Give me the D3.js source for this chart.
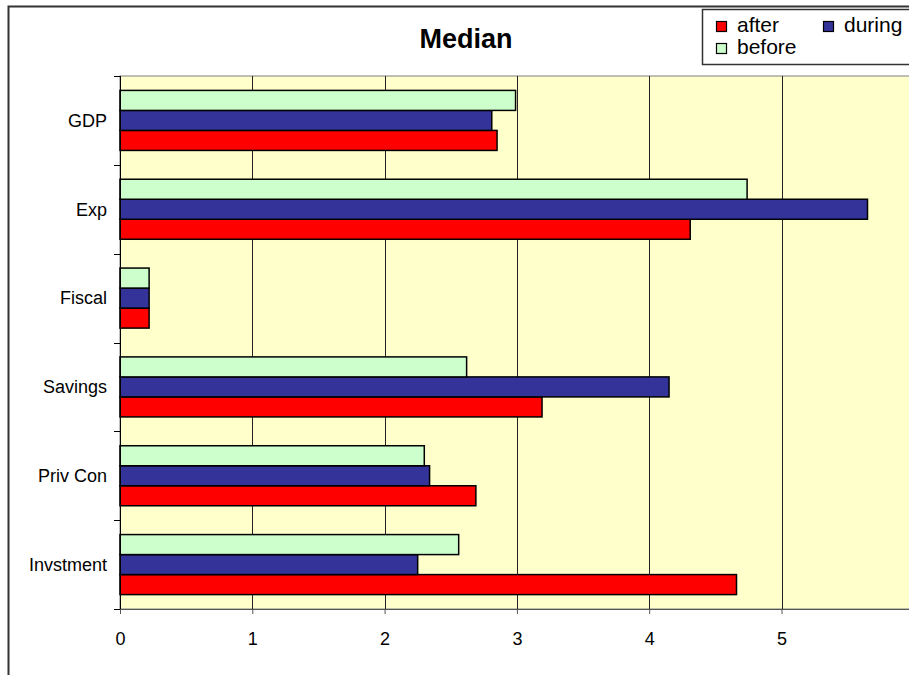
<!DOCTYPE html>
<html><head><meta charset="utf-8">
<script src="https://cdn.jsdelivr.net/npm/d3@7"></script>
<style>body{margin:0;background:#fff;} svg{display:block;font-family:Arial,"Liberation Sans",sans-serif;}</style>
</head><body>
<svg id="chart" width="909" height="675"></svg>
<script>
const categories = ["GDP","Exp","Fiscal","Savings","Priv Con","Invstment"];
const seriesNames = ["after","during","before"];
const afterVals  = [2.85, 4.31, 0.22, 3.19, 2.69, 4.66];
const duringVals = [2.81, 5.65, 0.22, 4.15, 2.34, 2.25];
const beforeVals = [2.99, 4.74, 0.22, 2.62, 2.30, 2.56];
const xTicks = [0,1,2,3,4,5,6];
const colors = {after:"#FF0000", during:"#333399", before:"#CCFFCC"};
const values = {after:afterVals, during:duringVals, before:beforeVals};

const svg = d3.select("#chart");
const L = 120, T = 76, B = 609;
const FONT = "Arial, 'Liberation Sans', sans-serif";

// outer chart border
svg.append("rect").attr("x",8.5).attr("y",6.5).attr("width",1000).attr("height",800)
  .attr("fill","#fff").attr("stroke","#333").attr("stroke-width",2);

const x = d3.scaleLinear().domain([0,6]).range([L, L + 6*132.3]);
const y = d3.scaleBand().domain(categories).range([T,B]).padding(0);
const inner = d3.scaleBand().domain(["before","during","after"]).range([0,y.bandwidth()]).paddingInner(0).paddingOuter(0.72);

// plot area
svg.append("rect").attr("x",L).attr("y",T).attr("width",x(6)-L).attr("height",B-T)
  .attr("fill","#FFFFCC").attr("stroke","#808080").attr("stroke-width",1);

// gridlines
svg.append("g").selectAll("line").data(xTicks.filter(d=>d>0)).join("line")
  .attr("x1",d=>Math.round(x(d))+0.5).attr("x2",d=>Math.round(x(d))+0.5)
  .attr("y1",T).attr("y2",B).attr("stroke","#222").attr("stroke-width",1);

// bars
const rows = [];
categories.forEach((c,i)=>seriesNames.forEach(s=>rows.push({c,s,v:values[s][i]})));
svg.append("g").selectAll("rect").data(rows).join("rect")
  .attr("x",x(0)).attr("y",d=>y(d.c)+inner(d.s))
  .attr("width",d=>x(d.v)-x(0)).attr("height",inner.bandwidth())
  .attr("fill",d=>colors[d.s]).attr("stroke","#000").attr("stroke-width",1.5);

// x axis
const xAxis = d3.axisBottom(x).tickValues(xTicks).tickSize(5).tickPadding(18).tickFormat(d3.format("d"));
const gx = svg.append("g").attr("transform",`translate(0,${B})`).call(xAxis)
  .attr("font-size",18).attr("font-family",FONT);
gx.select(".domain").attr("stroke","#555");
gx.selectAll(".tick line").attr("stroke","#555");
gx.selectAll("text").attr("fill","#000");

// y axis: ticks at category boundaries
const ga = svg.append("g");
ga.append("line").attr("x1",L+0.5).attr("x2",L+0.5).attr("y1",T).attr("y2",B).attr("stroke","#000");
const bounds = categories.map(c=>y(c)).concat([B]);
ga.selectAll("line.tk").data(bounds).join("line").attr("class","tk")
  .attr("x1",L-6).attr("x2",L).attr("y1",d=>Math.round(d)+0.5).attr("y2",d=>Math.round(d)+0.5).attr("stroke","#000");
ga.selectAll("text").data(categories).join("text")
  .attr("x",107).attr("y",d=>y(d)+y.bandwidth()/2).attr("dy","0.35em")
  .attr("text-anchor","end").attr("font-size",18).attr("font-family",FONT).text(d=>d);

// title
svg.append("text").attr("x",466).attr("y",48).attr("text-anchor","middle")
  .attr("font-size",27).attr("font-weight","bold").attr("font-family",FONT).text("Median");

// legend
const lg = svg.append("g");
lg.append("rect").attr("x",702.5).attr("y",9.5).attr("width",300).attr("height",55)
  .attr("fill","#fff").attr("stroke","#333").attr("stroke-width",1.5);
const legPos = {after:[716,21], during:[823,21], before:[716,43]};
seriesNames.forEach(s=>{
  const [lx,ly] = legPos[s];
  lg.append("rect").attr("x",lx+0.5).attr("y",ly+0.5).attr("width",10).attr("height",10)
    .attr("fill",colors[s]).attr("stroke","#000").attr("stroke-width",1.2);
  lg.append("text").attr("x",lx+21).attr("y",ly+11)
    .attr("font-size",21).attr("font-family",FONT).text(s);
});
</script>
</body></html>
